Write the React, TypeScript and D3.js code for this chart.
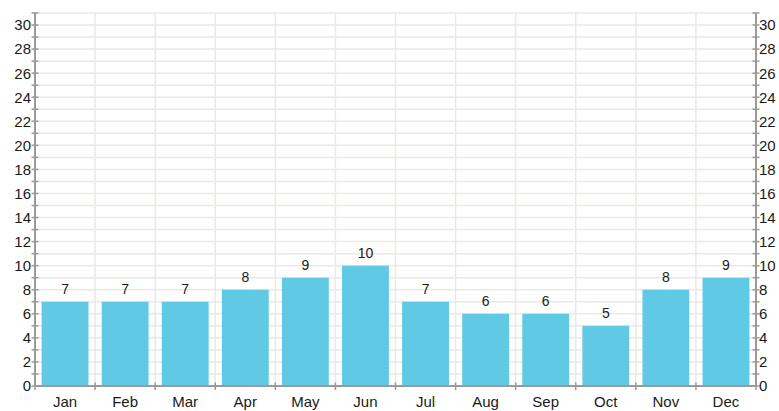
import React from 'react'
import * as d3 from 'd3'

const months = ['Jan', 'Feb', 'Mar', 'Apr', 'May', 'Jun', 'Jul', 'Aug', 'Sep', 'Oct', 'Nov', 'Dec']
const values = [7, 7, 7, 8, 9, 10, 7, 6, 6, 5, 8, 9]
const yTicks = d3.range(0, 32) // minor ticks and grid every 1
const yLabels = d3.range(0, 31, 2)

const W = 779
const H = 411
const left = 35
const right = 756
const top = 13
const bottom = 386

const font = '"Liberation Sans", Arial, sans-serif'
const gridColor = '#e9e9e6'
const axisColor = '#9a9a9a'
const barColor = '#60cae4'
const textColor = '#1a1a1a'

export default function App() {
  const x = d3.scaleBand<string>()
    .domain(months)
    .range([left, right])
    .paddingInner(0.22)
    .paddingOuter(0.11)

  const band = d3.scaleBand<string>().domain(months).range([left, right])

  const y = d3.scaleLinear()
    .domain([0, 31])
    .range([bottom, top])

  const bounds = months.map(m => band(m) as number).concat([right])

  return (
    <svg width={W} height={H} style={{ position: 'absolute', left: 0, top: 0, display: 'block' }}>
      <rect width={W} height={H} fill="#fff" />
      {/* horizontal grid */}
      {yTicks.map(t => (
        <line key={'hg' + t} x1={left} x2={right} y1={y(t)} y2={y(t)} stroke={gridColor} strokeWidth={1.5} />
      ))}
      {/* vertical grid */}
      {bounds.map((b, i) => (
        <line key={'vg' + i} x1={b} x2={b} y1={top} y2={bottom} stroke={gridColor} strokeWidth={1.5} />
      ))}
      {/* bars */}
      {months.map((m, i) => (
        <rect
          key={m}
          x={x(m)}
          y={y(values[i])}
          width={x.bandwidth()}
          height={y(0) - y(values[i])}
          fill={barColor}
        />
      ))}
      {/* value labels */}
      {months.map((m, i) => (
        <text
          key={'v' + m}
          x={(x(m) as number) + x.bandwidth() / 2}
          y={y(values[i]) - 8}
          textAnchor="middle"
          fontFamily={font}
          fontSize={14}
          fill={textColor}
        >
          {values[i]}
        </text>
      ))}
      {/* left axis */}
      <line x1={left} x2={left} y1={top} y2={bottom} stroke={axisColor} strokeWidth={2} />
      {yTicks.map(t => (
        <line key={'lt' + t} x1={left - 3.5} x2={left + 3.5} y1={y(t)} y2={y(t)} stroke={axisColor} strokeWidth={1.5} />
      ))}
      {yLabels.map(t => (
        <text key={'ll' + t} x={left - 4} y={y(t)} dy="0.36em" textAnchor="end" fontFamily={font} fontSize={15} fill={textColor}>
          {t}
        </text>
      ))}
      {/* right axis */}
      <line x1={right} x2={right} y1={top} y2={bottom} stroke={axisColor} strokeWidth={2} />
      {yTicks.map(t => (
        <line key={'rt' + t} x1={right - 3.5} x2={right + 3.5} y1={y(t)} y2={y(t)} stroke={axisColor} strokeWidth={1.5} />
      ))}
      {yLabels.map(t => (
        <text key={'rl' + t} x={right + 3} y={y(t)} dy="0.36em" textAnchor="start" fontFamily={font} fontSize={15} fill={textColor}>
          {t}
        </text>
      ))}
      {/* bottom axis */}
      <line x1={left} x2={right} y1={bottom} y2={bottom} stroke={axisColor} strokeWidth={2} />
      {bounds.map((b, i) => (
        <line key={'bt' + i} x1={b} x2={b} y1={bottom - 3.5} y2={bottom + 4} stroke={axisColor} strokeWidth={1.5} />
      ))}
      {months.map(m => (
        <text
          key={'xl' + m}
          x={(band(m) as number) + band.bandwidth() / 2}
          y={bottom + 21}
          textAnchor="middle"
          fontFamily={font}
          fontSize={15}
          fill={textColor}
        >
          {m}
        </text>
      ))}
    </svg>
  )
}
